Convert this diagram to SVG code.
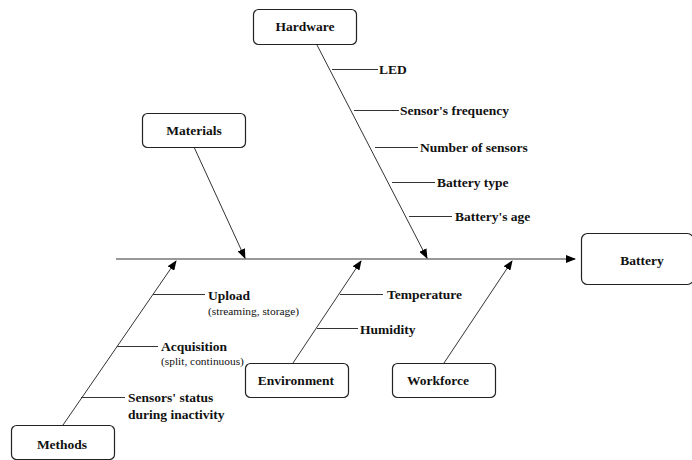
<svg xmlns="http://www.w3.org/2000/svg" width="692" height="460" viewBox="0 0 692 460">
<defs>
<marker id="ah" markerWidth="10" markerHeight="8" refX="9" refY="4" orient="auto" markerUnits="userSpaceOnUse">
<path d="M0,0 L10,4 L0,8 Z" fill="#000"/>
</marker>
</defs>
<style>
.box{fill:#fff;stroke:#222;stroke-width:1.2}
.t{font-family:"Liberation Serif","Times New Roman",serif;font-weight:bold;font-size:13.5px;fill:#111}
.s{font-family:"Liberation Serif","Times New Roman",serif;font-size:11.4px;fill:#111}
.ln{stroke:#333;stroke-width:1;fill:none}
.ar{stroke:#333;stroke-width:1;fill:none;marker-end:url(#ah)}
</style>
<rect width="692" height="460" fill="#fff"/>
<g id="connectors">
<line class="ar" x1="116" y1="259" x2="575" y2="259"/>
<line class="ar" x1="317" y1="45" x2="427" y2="258"/>
<line class="ar" x1="194" y1="147" x2="245" y2="258"/>
<line class="ar" x1="63" y1="425" x2="176" y2="261"/>
<line class="ar" x1="293" y1="363" x2="361" y2="261"/>
<line class="ar" x1="444" y1="363" x2="512" y2="261"/>
<line class="ln" x1="332" y1="69.5" x2="378" y2="69.5"/>
<line class="ln" x1="354" y1="110.5" x2="399" y2="110.5"/>
<line class="ln" x1="375" y1="147.5" x2="418" y2="147.5"/>
<line class="ln" x1="392" y1="182.5" x2="435" y2="182.5"/>
<line class="ln" x1="409" y1="216.5" x2="452" y2="216.5"/>
<line class="ln" x1="153" y1="294.5" x2="205" y2="294.5"/>
<line class="ln" x1="117" y1="346.5" x2="158" y2="346.5"/>
<line class="ln" x1="81" y1="397.5" x2="125" y2="397.5"/>
<line class="ln" x1="340" y1="294.5" x2="383" y2="294.5"/>
<line class="ln" x1="317" y1="328.5" x2="358" y2="328.5"/>
</g>
<g id="hardware">
<rect class="box" x="253.5" y="9.5" width="103" height="35" rx="5"/>
<text class="t" x="305" y="30.5" text-anchor="middle">Hardware</text>
</g>
<g id="materials">
<rect class="box" x="142.5" y="113.5" width="103" height="34" rx="5"/>
<text class="t" x="194" y="135" text-anchor="middle">Materials</text>
</g>
<g id="methods">
<rect class="box" x="11.5" y="425.5" width="103" height="34" rx="5"/>
<text class="t" x="62" y="448.5" text-anchor="middle">Methods</text>
</g>
<g id="environment">
<rect class="box" x="245.5" y="363.5" width="103" height="34" rx="5"/>
<text class="t" x="296" y="385" text-anchor="middle">Environment</text>
</g>
<g id="workforce">
<rect class="box" x="392.5" y="363.5" width="103" height="34" rx="5"/>
<text class="t" x="438" y="384.5" text-anchor="middle">Workforce</text>
</g>
<g id="battery">
<rect class="box" x="581.5" y="233.5" width="112" height="51" rx="6"/>
<text class="t" x="642" y="264.5" text-anchor="middle">Battery</text>
</g>
<g id="causes">
<text class="t" x="379" y="74">LED</text>
<text class="t" x="400" y="115">Sensor's frequency</text>
<text class="t" x="420" y="152">Number of sensors</text>
<text class="t" x="437" y="187">Battery type</text>
<text class="t" x="455" y="221">Battery's age</text>
<text class="t" x="208" y="299.5">Upload</text>
<text class="s" x="208" y="314.5">(streaming, storage)</text>
<text class="t" x="161" y="351">Acquisition</text>
<text class="s" x="161" y="364.5">(split, continuous)</text>
<text class="t" x="128" y="402">Sensors' status</text>
<text class="t" x="128" y="418.5">during inactivity</text>
<text class="t" x="387" y="298.5">Temperature</text>
<text class="t" x="360" y="333.5">Humidity</text>
</g>
</svg>
